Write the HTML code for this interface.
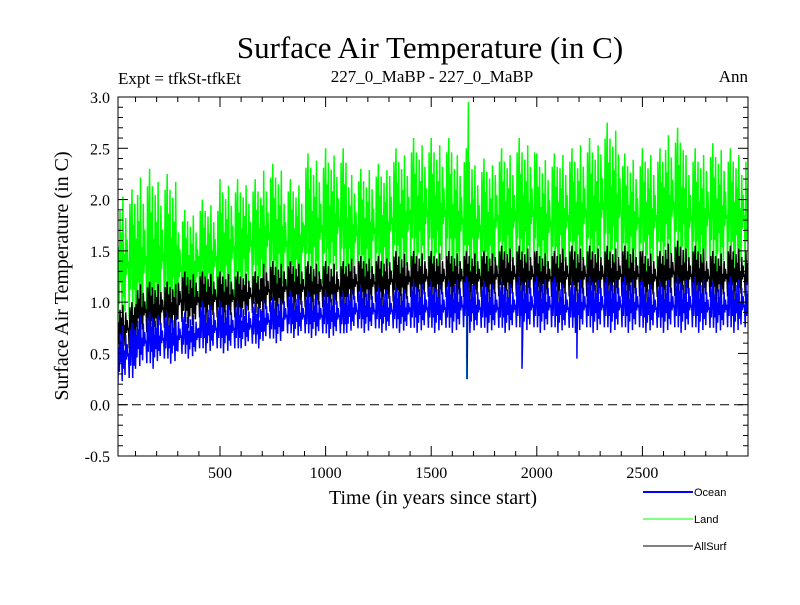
<!DOCTYPE html>
<html><head><meta charset="utf-8"><style>
body{margin:0;background:#fff;width:800px;height:600px;overflow:hidden}
svg text{font-family:"Liberation Serif",serif}
</style></head><body>
<svg id="chart" width="800" height="600" xmlns="http://www.w3.org/2000/svg">
<text x="430" y="58" font-size="31" text-anchor="middle">Surface Air Temperature (in C)</text>
<text x="118" y="84" font-size="17">Expt = tfkSt-tfkEt</text>
<text x="432" y="82" font-size="17" text-anchor="middle">227_0_MaBP - 227_0_MaBP</text>
<text x="748" y="82" font-size="17" text-anchor="end">Ann</text>
<text transform="translate(68,276) rotate(-90)" font-size="20" text-anchor="middle">Surface Air Temperature (in C)</text>
<text x="433" y="504" font-size="20" text-anchor="middle">Time (in years since start)</text>
<defs><clipPath id="clip"><rect x="118" y="97" width="630" height="359"/></clipPath></defs>
<g id="series" clip-path="url(#clip)"></g>
<line id="zero" x1="118" x2="748" stroke="#000" stroke-dasharray="9,5" stroke-width="1"/>
<g id="axes"></g>
<g>
<line x1="643" x2="693" y1="492" y2="492" stroke="#0000ff" stroke-width="2"/>
<text x="694" y="496" font-size="11" style="font-family:'Liberation Sans',sans-serif">Ocean</text>
<line x1="643" x2="693" y1="519" y2="519" stroke="#00ff00" stroke-width="1"/>
<text x="694" y="523" font-size="11" style="font-family:'Liberation Sans',sans-serif">Land</text>
<line x1="643" x2="693" y1="546" y2="546" stroke="#000" stroke-width="1"/>
<text x="694" y="550" font-size="11" style="font-family:'Liberation Sans',sans-serif">AllSurf</text>
</g>
</svg>
<script>
// bins of 100 years, starting at year 0
const binStarts=[0,100,200,300,400,500,600,700,800,900,1000,1100,1200,1300,1400,1500,1600,1700,1800,1900,2000,2100,2200,2300,2400,2500,2600,2700,2800,2900];
const landHi=[2.1,2.3,2.25,1.9,2.0,2.2,2.2,2.35,2.2,2.45,2.5,2.3,2.35,2.5,2.6,2.6,2.5,2.4,2.5,2.6,2.45,2.5,2.6,2.75,2.45,2.5,2.7,2.5,2.55,2.5];
const landLo=[0.7,0.6,0.7,0.8,0.9,0.9,1.0,1.0,1.0,1.05,1.1,1.1,1.1,1.15,1.2,1.2,1.15,1.1,1.2,1.2,1.15,1.2,1.2,1.2,1.2,1.2,1.25,1.2,1.2,1.2];
const oceanHi=[0.8,0.9,0.9,0.9,1.0,1.0,1.0,1.05,1.1,1.1,1.1,1.15,1.15,1.15,1.2,1.2,1.25,1.2,1.2,1.25,1.25,1.2,1.25,1.25,1.25,1.2,1.25,1.25,1.2,1.25];
const oceanLo=[0.2,0.35,0.4,0.45,0.5,0.5,0.55,0.6,0.65,0.65,0.65,0.7,0.7,0.7,0.7,0.7,0.7,0.7,0.7,0.7,0.7,0.7,0.7,0.7,0.7,0.7,0.7,0.7,0.7,0.7];
const allHi=[1.0,1.2,1.2,1.3,1.3,1.3,1.3,1.4,1.4,1.4,1.4,1.45,1.45,1.5,1.5,1.5,1.5,1.5,1.55,1.55,1.5,1.55,1.55,1.55,1.55,1.5,1.6,1.55,1.5,1.55];
const allLo=[0.5,0.65,0.7,0.75,0.8,0.8,0.85,0.85,0.9,0.9,0.9,0.95,0.95,0.95,1.0,1.0,1.0,1.0,1.0,1.0,1.0,1.0,1.0,1.0,1.0,1.0,1.0,1.0,1.0,1.0];
// isolated spikes
const landSpikeYears=[1668,1676];
const landSpikeVals=[0.25,2.95];
const oceanSpikeYears=[1670,1930,2190];
const oceanSpikeVals=[0.25,0.35,0.45];
const allSpikeYears=[1670];
const allSpikeVals=[0.45];
const yTicks=[-0.5,0.0,0.5,1.0,1.5,2.0,2.5,3.0];
const yTickLabels=["-0.5","0.0","0.5","1.0","1.5","2.0","2.5","3.0"];
const xTicks=[500,1000,1500,2000,2500];
const xTickLabels=["500","1000","1500","2000","2500"];

const X0=118,X1=748,Y0=456,Y1=97,xMin=17,xMax=3000,yMin=-0.5,yMax=3.0;
const xs=v=>X0+(v-xMin)/(xMax-xMin)*(X1-X0);
const ys=v=>Y0-(v-yMin)/(yMax-yMin)*(Y0-Y1);
const NS="http://www.w3.org/2000/svg";
const pattern=[1,0.1,0.75,0.3,0.9,0,0.6,0.2,0.85,0.35,0.7,0.05,0.95,0.25,0.55,0.15,0.8,0.4,0.65,0.45,0.5,0.1,0.9,0.3,0.7];
function drawSeries(lo,hi,spY,spV,color,name,w){
  const pts=[];let k=0;
  for(let i=0;i<binStarts.length;i++){
    const n=30;
    for(let j=0;j<n;j++){
      const yr=binStarts[i]+j*100/n;
      const f=pattern[(k++)%pattern.length];
      pts.push([yr,lo[i]+(hi[i]-lo[i])*f]);
    }
  }
  spY.forEach((y,i)=>pts.push([y,spV[i]]));
  pts.sort((a,b)=>a[0]-b[0]);
  let d="";
  pts.forEach(p=>{d+=(d?"L":"M")+xs(p[0]).toFixed(1)+","+ys(p[1]).toFixed(1);});
  const p=document.createElementNS(NS,"path");
  
  
  p.setAttribute("d",d);p.setAttribute("fill","none");
  p.setAttribute("stroke",color);p.setAttribute("stroke-width",w);
  document.getElementById("series").appendChild(p);
}
drawSeries(landLo,landHi,landSpikeYears,landSpikeVals,"#00ff00","land-series",1.5);
drawSeries(allLo,allHi,allSpikeYears,allSpikeVals,"#000000","allsurf-series",1.5);
drawSeries(oceanLo,oceanHi,oceanSpikeYears,oceanSpikeVals,"#0000ff","ocean-series",1.5);
document.getElementById("zero").setAttribute("y1",ys(0));
document.getElementById("zero").setAttribute("y2",ys(0));

const ax=document.getElementById("axes");
function line(x1,y1,x2,y2,name){
  const l=document.createElementNS(NS,"line");
  
  
  l.setAttribute("x1",x1);l.setAttribute("y1",y1);l.setAttribute("x2",x2);l.setAttribute("y2",y2);
  l.setAttribute("stroke","#000");l.setAttribute("stroke-width","1");
  ax.appendChild(l);
}
function text(x,y,s,anchor,name){
  const t=document.createElementNS(NS,"text");
  
  
  t.setAttribute("x",x);t.setAttribute("y",y);t.setAttribute("font-size","16");
  t.setAttribute("text-anchor",anchor);t.textContent=s;ax.appendChild(t);
}
const fr=document.createElementNS(NS,"rect");


fr.setAttribute("x",X0);fr.setAttribute("y",Y1);fr.setAttribute("width",X1-X0);fr.setAttribute("height",Y0-Y1);
fr.setAttribute("fill","none");fr.setAttribute("stroke","#000");ax.appendChild(fr);
for(let v=100;v<3000;v+=100){
  const big=v%500===0, L=big?10:5, x=xs(v);
  line(x,Y0,x,Y0-L,"x-tick");line(x,Y1,x,Y1+L,"x-tick-top");
}
for(let i=-5;i<=30;i++){
  const v=i/10, big=i%5===0, L=big?10:5, y=ys(v);
  line(X0,y,X0+L,y,"y-tick");line(X1,y,X1-L,y,"y-tick-right");
}
xTicks.forEach((v,i)=>text(xs(v),Y0+22,xTickLabels[i],"middle","x-tick-label"));
yTicks.forEach((v,i)=>text(X0-8,ys(v)+6,yTickLabels[i],"end","y-tick-label"));
</script>
</body></html>
